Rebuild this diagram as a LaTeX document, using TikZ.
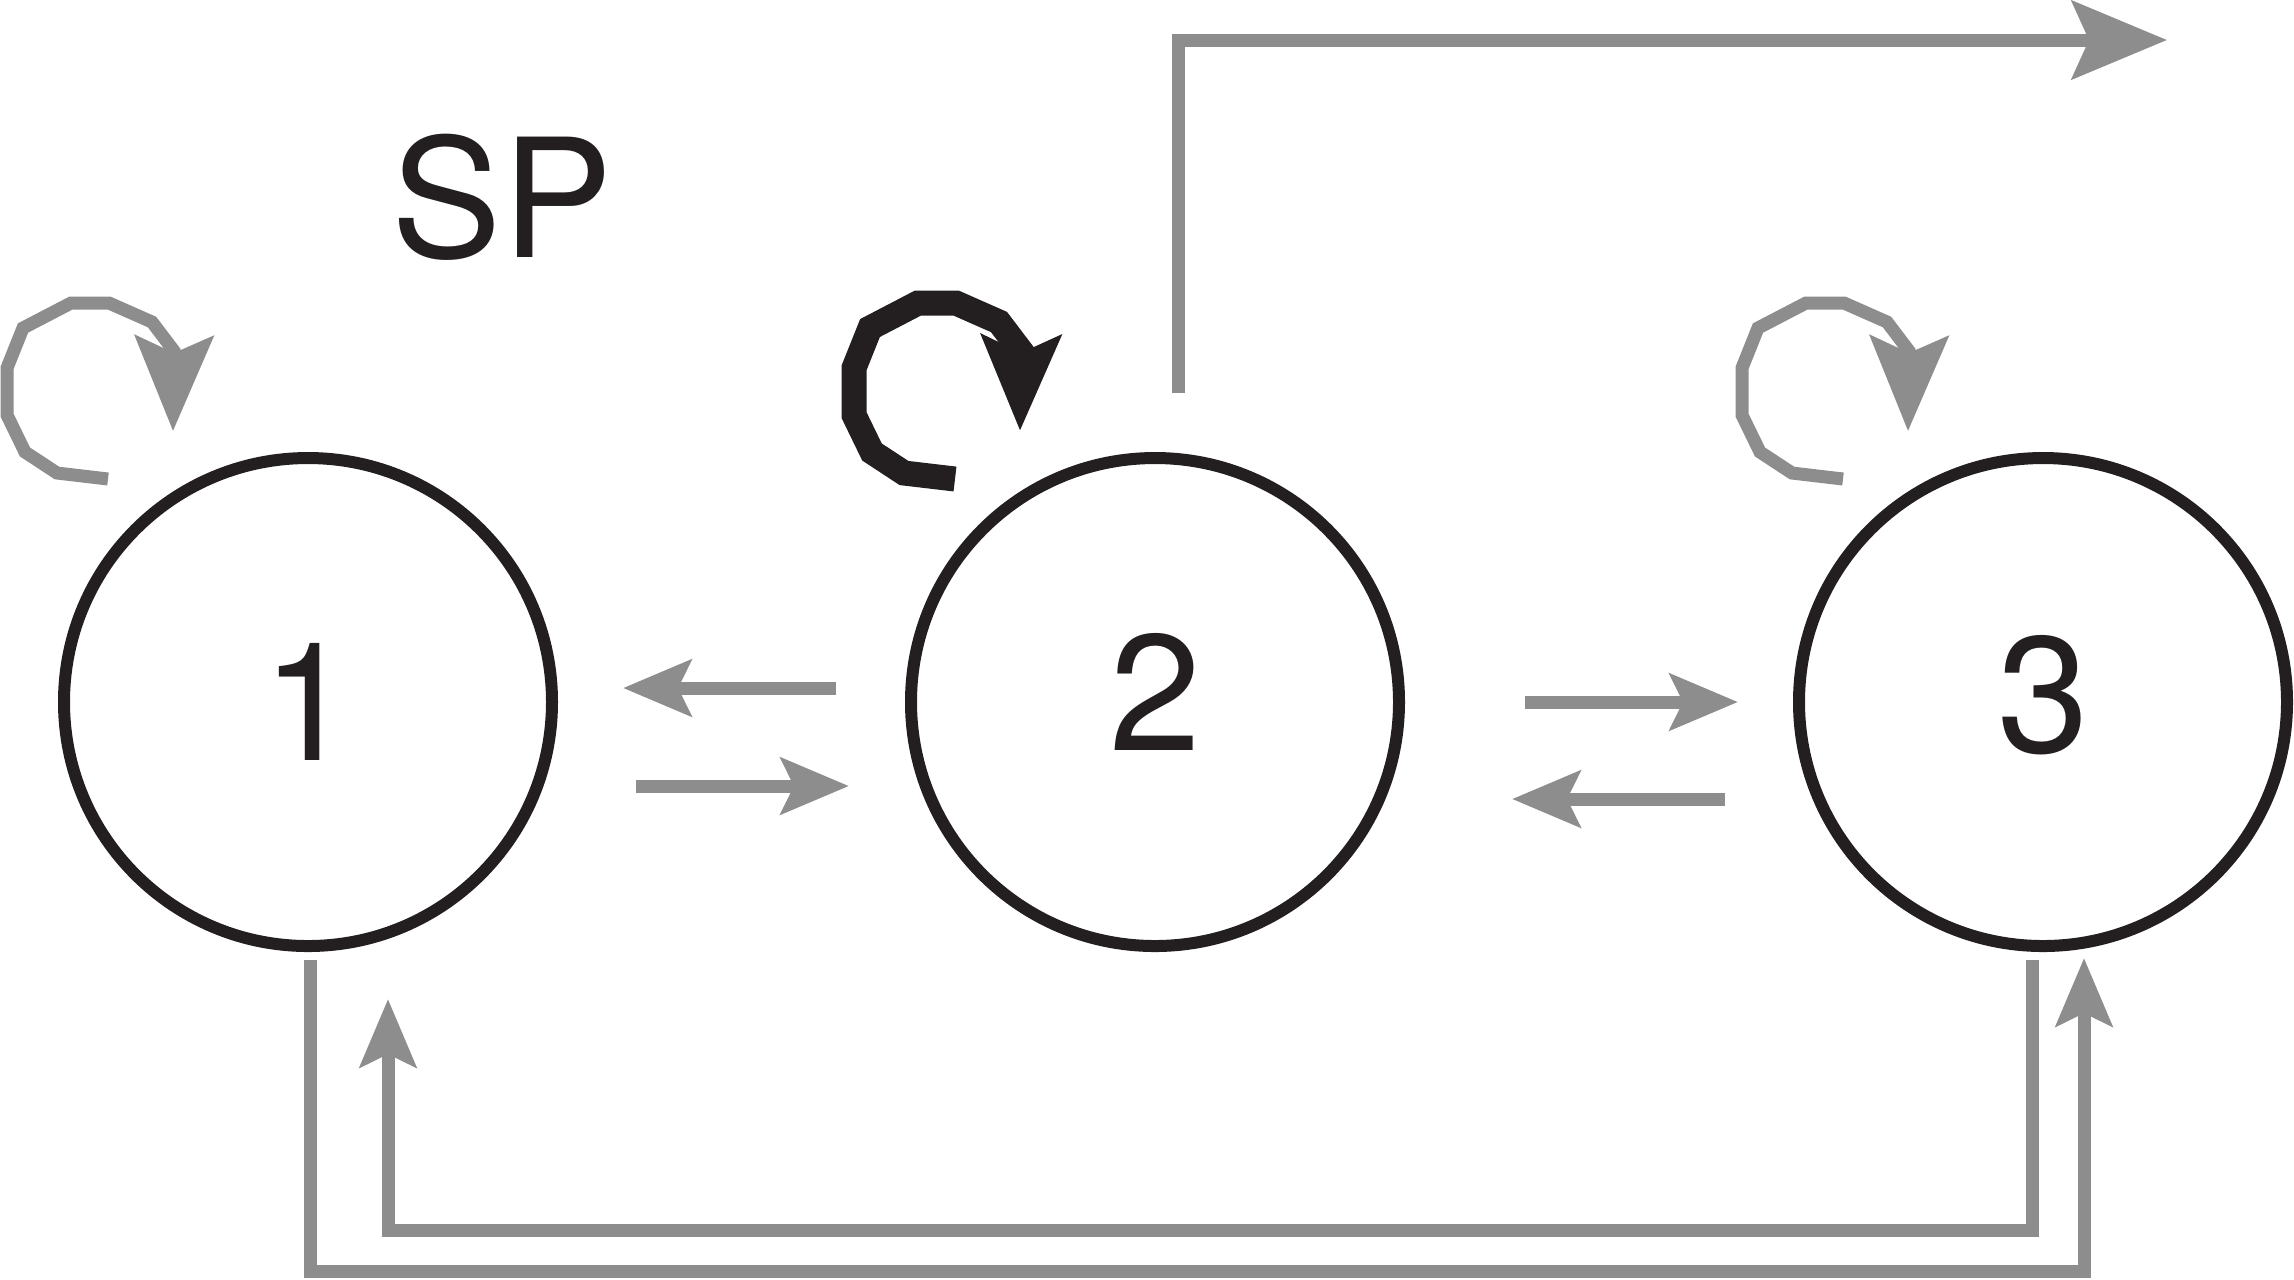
\documentclass[tikz,border=0pt]{standalone}
\usepackage{fontspec}
\setmainfont{TeX Gyre Heros}
\usetikzlibrary{arrows.meta, positioning}
\definecolor{ink}{RGB}{35,31,32}
\definecolor{shade}{RGB}{142,141,142}
\tikzstyle{state} = [draw=ink, circle, line width=1.2mm, minimum size=48.8mm, inner sep=0pt, text=ink, font=\fontsize{47}{56}\selectfont]
\tikzstyle{sptext} = [text=ink, font=\fontsize{47}{56}\selectfont]
\tikzstyle{flow} = [draw=shade, line width=1.3mm, -{Stealth[length=6.8mm, width=5.6mm, inset=1.3mm]}]
\tikzstyle{bigflow} = [draw=shade, line width=1.3mm, -{Stealth[length=9.5mm, width=7.8mm, inset=1.7mm]}]
\tikzstyle{grayloop} = [bigflow]
\tikzstyle{blackloop} = [draw=ink, line width=2.5mm, -{Stealth[length=9.5mm, width=7.8mm, inset=1.7mm]}]

\begin{document}
\begin{tikzpicture}[x=0.1mm, y=-0.1mm]
    \useasboundingbox (0,0) rectangle (2294,1279);
    % Place the states
    \node [state] (c1) at (308,702) {1};
    \node [state, right=34.7mm of c1] (c2) {\raisebox{2mm}{2}};
    \node [state, right=38.8mm of c2] (c3) {\raisebox{1.6mm}{3}};
    \node [sptext] (sp) at (502,197) {SP};

    % Free ends of the connectors
    \coordinate (from21) at (836,688);
    \coordinate (to21) at (623,688);
    \coordinate (from12) at (636,786);
    \coordinate (to12) at (849,786);
    \coordinate (from23) at (1525,702);
    \coordinate (to23) at (1738,702);
    \coordinate (from32) at (1725,799);
    \coordinate (to32) at (1512,799);
    \coordinate (from2) at (1178,393);
    \coordinate (to2) at (2167,40);
    \coordinate (from13) at (310,960);
    \coordinate (to13) at (2084,958);
    \coordinate (from31) at (2032,960);
    \coordinate (to31) at (388,999);

    % Connect the states
    \draw [flow] (from21) -- (to21);
    \draw [flow] (from12) -- (to12);
    \draw [flow] (from23) -- (to23);
    \draw [flow] (from32) -- (to32);
    \draw [bigflow] (from2) |- (to2);
    \draw [flow] (from13) -- ++(0,311) -| (to13);
    \draw [flow] (from31) -- ++(0,270) -| (to31);

    % Self loops
    \foreach \nd/\lk in {c1/grayloop, c2/blackloop, c3/grayloop}
        \draw [\lk, shift={(\nd.center)}] (-200,-223) -- (-251,-229) -- (-283,-250) -- (-301,-287) -- (-301,-334) -- (-285,-374) -- (-237,-399) -- (-199,-399) -- (-156,-380) -- (-134,-351) -- (-135,-271);
\end{tikzpicture}
\end{document}
